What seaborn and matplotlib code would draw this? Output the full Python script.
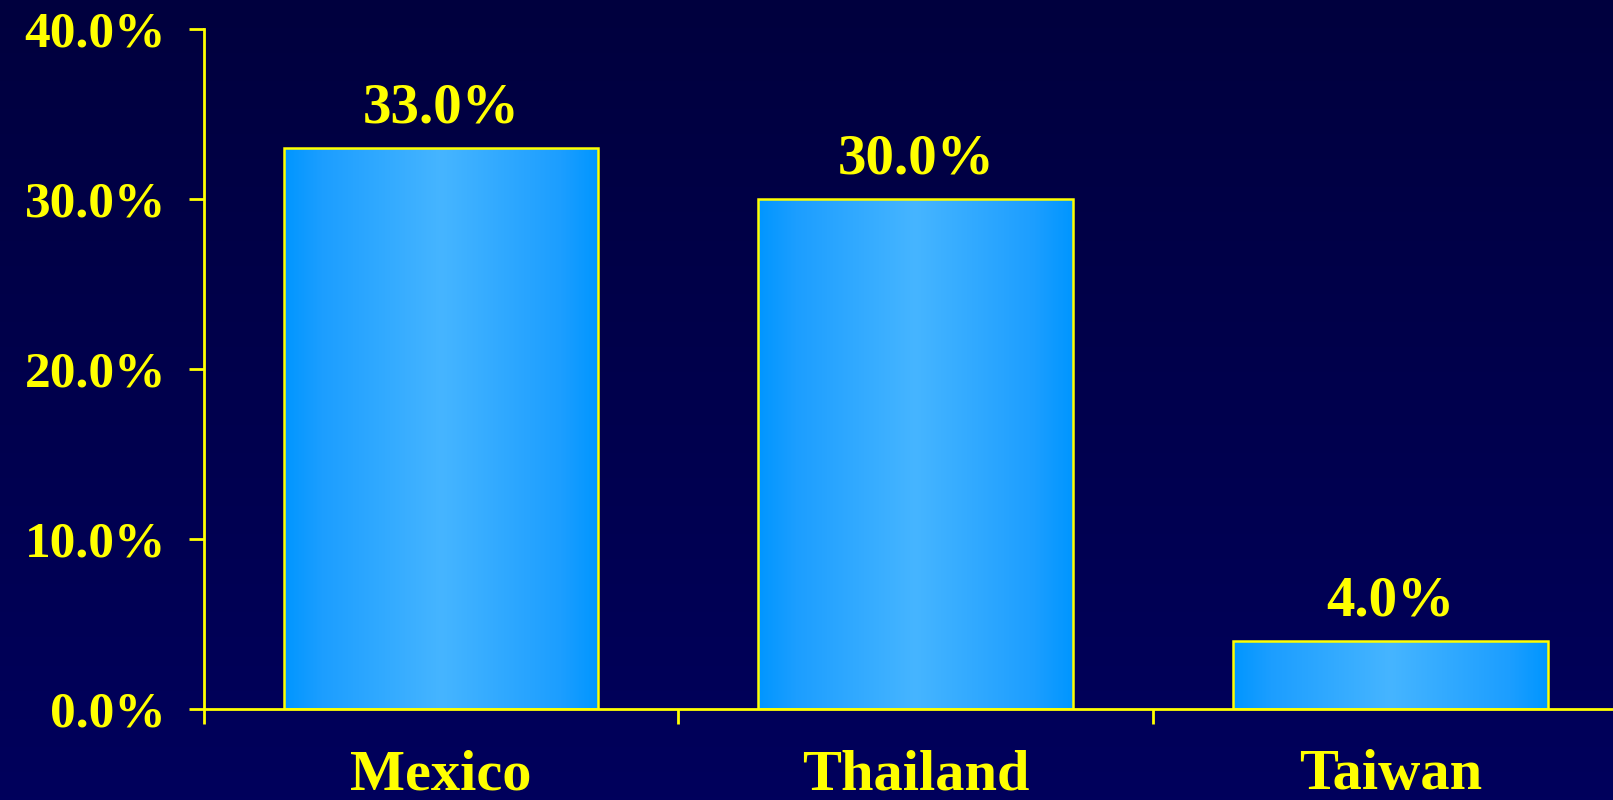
import numpy as np
import pandas as pd
import matplotlib
matplotlib.use("Agg")
import matplotlib.pyplot as plt
from matplotlib.colors import LinearSegmentedColormap
from matplotlib.ticker import FixedLocator, FuncFormatter
import seaborn as sns

# data
countries = ["Mexico", "Thailand", "Taiwan"]
rates = [33.0, 30.0, 4.0]
y_ticks = [0, 10, 20, 30, 40]

YELLOW = "#FFFF00"

sns.set_theme(style="white")
plt.rcParams["font.family"] = ["Liberation Serif", "DejaVu Serif"]
plt.rcParams["font.weight"] = "bold"

fig = plt.figure(figsize=(16.13, 8.0), dpi=100)

# navy background, slightly lighter towards the bottom
bg = fig.add_axes([0, 0, 1, 1], zorder=-10)
bg_cmap = LinearSegmentedColormap.from_list("bg", ["#00003E", "#00005C"])
bg.imshow(np.linspace(0, 1, 256).reshape(-1, 1), aspect="auto", cmap=bg_cmap,
          extent=[0, 1, 0, 1], origin="upper")
bg.set_axis_off()

# the category axis runs a little past the right edge of the slide
ax = fig.add_axes([0.1263, 0.1138, 0.883, 0.85])
ax.patch.set_alpha(0)

df = pd.DataFrame({"country": countries, "rate": rates})
sns.barplot(data=df, x="country", y="rate", width=0.663, ax=ax,
            color="#0099FF", edgecolor=YELLOW, linewidth=1.8)

# horizontal gradient fill inside each bar
bar_cmap = LinearSegmentedColormap.from_list(
    "bar", [(0, "#0096FF"), (0.12, "#1C9EFF"), (0.5, "#46B5FF"),
            (0.88, "#1C9EFF"), (1, "#0096FF")])
grad = np.linspace(0, 1, 256).reshape(1, -1)
for p in ax.patches:
    x0, y0 = p.get_x(), p.get_y()
    w, h = p.get_width(), p.get_height()
    im = ax.imshow(grad, aspect="auto", cmap=bar_cmap,
                   extent=[x0, x0 + w, y0, y0 + h], zorder=p.get_zorder() - 0.1)
    im.set_clip_path(p)
    p.set_facecolor("none")
    p.set_zorder(3)

for p, v in zip(ax.patches, rates):
    ax.annotate(f"{v:.1f}%", (p.get_x() + p.get_width() / 2, p.get_height()),
                xytext=(0, 10), textcoords="offset points", ha="center", va="bottom",
                color=YELLOW, fontsize=41, fontweight="bold")

ax.set_xlim(-0.5, 2.5)
ax.set_ylim(0, 40)
ax.yaxis.set_major_locator(FixedLocator(y_ticks))
ax.yaxis.set_major_formatter(FuncFormatter(lambda v, _: f"{v:.1f}%"))
ax.xaxis.set_minor_locator(FixedLocator([-0.5, 0.5, 1.5, 2.5]))

for s in ["top", "right"]:
    ax.spines[s].set_visible(False)
for s in ["left", "bottom"]:
    ax.spines[s].set_color(YELLOW)
    ax.spines[s].set_linewidth(2)

ax.tick_params(axis="y", which="major", direction="out", length=11, width=2,
               color=YELLOW, labelcolor=YELLOW, labelsize=37, pad=16, left=True)
ax.tick_params(axis="x", which="major", length=0, labelcolor=YELLOW,
               labelsize=42, pad=29)
ax.tick_params(axis="x", which="minor", direction="out", length=11, width=2,
               color=YELLOW, bottom=True)
for lab in ax.get_xticklabels() + ax.get_yticklabels():
    lab.set_fontweight("bold")

ax.set_xlabel("")
ax.set_ylabel("")
ax.grid(False)

fig.savefig("out.png", dpi=100)
